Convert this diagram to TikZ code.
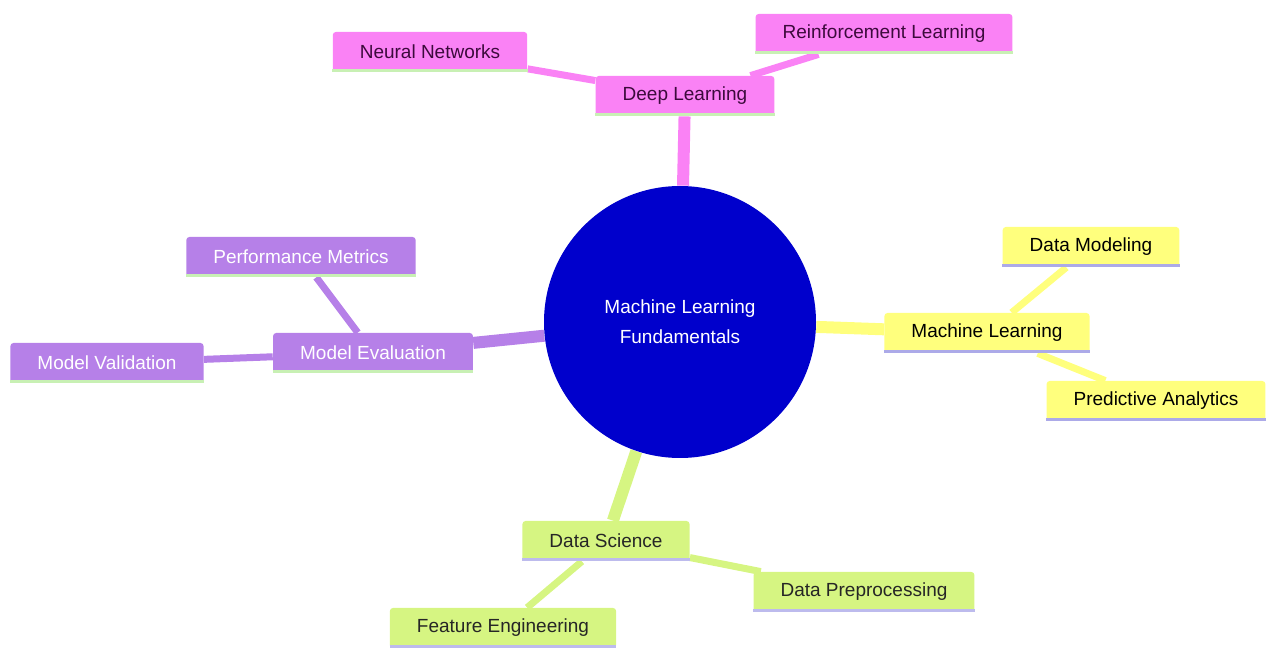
\documentclass[tikz,border=0pt]{standalone}
\usepackage{fontspec}
\setmainfont{Liberation Sans}
\usepackage{tikz}
\usetikzlibrary{positioning, backgrounds}
\usepackage{xcolor}

\definecolor{rootblue}{RGB}{0,0,204}
\definecolor{pinkfill}{RGB}{250,130,245}
\definecolor{pinktext}{RGB}{60,10,60}
\definecolor{violetfill}{RGB}{182,128,232}
\definecolor{yellowfill}{RGB}{255,255,125}
\definecolor{greenfill}{RGB}{214,245,130}
\definecolor{mintline}{RGB}{200,240,180}
\definecolor{lilacline}{RGB}{172,170,232}

\begin{document}
\begin{tikzpicture}[x=0.5pt, y=-0.5pt,
  font=\fontsize{9.5}{11}\selectfont,
  topic/.style={rounded corners=1.5pt, minimum height=20pt, inner xsep=13.5pt, inner ysep=0pt},
  pinktopic/.style={topic, fill=pinkfill, text=pinktext},
  violettopic/.style={topic, fill=violetfill, text=white},
  yellowtopic/.style={topic, fill=yellowfill, text=black},
  greentopic/.style={topic, fill=greenfill, text=black!85},
  mainedge/.style={line width=6pt},
  subedge/.style={line width=3.5pt},
]
\useasboundingbox (0,0) rectangle (1266,652);

%root
\node[circle, fill=rootblue, minimum size=136pt, text=white, align=center,
  font=\fontsize{9.5}{15}\selectfont] (root) at (680,322)
  {Machine Learning\\Fundamentals};

%branches
\node[pinktopic] (deep) at (685,96) {Deep Learning};
\node[pinktopic] (neural) at (430,52) {Neural Networks};
\node[pinktopic] (reinf) at (884,34) {Reinforcement Learning};

\node[violettopic] (evalu) at (373,353) {Model Evaluation};
\node[violettopic] (metrics) at (301,257) {Performance Metrics};
\node[violettopic] (valid) at (107,363) {Model Validation};

\node[yellowtopic] (mlearn) at (987,333) {Machine Learning};
\node[yellowtopic] (modeling) at (1091,247) {Data Modeling};
\node[yellowtopic] (predict) at (1156,401) {Predictive Analytics};

\node[greentopic] (science) at (606,541) {Data Science};
\node[greentopic] (prepro) at (864,592) {Data Preprocessing};
\node[greentopic] (feature) at (503,628) {Feature Engineering};

%underlines
\foreach \n/\c in {deep/mintline, neural/mintline, reinf/mintline,
    evalu/mintline, metrics/mintline, valid/mintline,
    mlearn/lilacline, modeling/lilacline, predict/lilacline,
    science/lilacline!80, prepro/lilacline!80, feature/lilacline!80}
  \draw[\c, line width=1.5pt] ([yshift=0.75pt]\n.south west) -- ([yshift=0.75pt]\n.south east);

%edges
\begin{scope}[on background layer]
\draw[mainedge, pinkfill] (root) -- (deep);
\draw[subedge, pinkfill] (deep) -- (neural);
\draw[subedge, pinkfill] (deep) -- (reinf);

\draw[mainedge, violetfill] (root) -- (evalu);
\draw[subedge, violetfill] (evalu) -- (metrics);
\draw[subedge, violetfill] (evalu) -- (valid);

\draw[mainedge, yellowfill] (root) -- (mlearn);
\draw[subedge, yellowfill] (mlearn) -- (modeling);
\draw[subedge, yellowfill] (mlearn) -- (predict);

\draw[mainedge, greenfill] (root) -- (science);
\draw[subedge, greenfill] (science) -- (prepro);
\draw[subedge, greenfill] (science) -- (feature);
\end{scope}

\end{tikzpicture}
\end{document}
